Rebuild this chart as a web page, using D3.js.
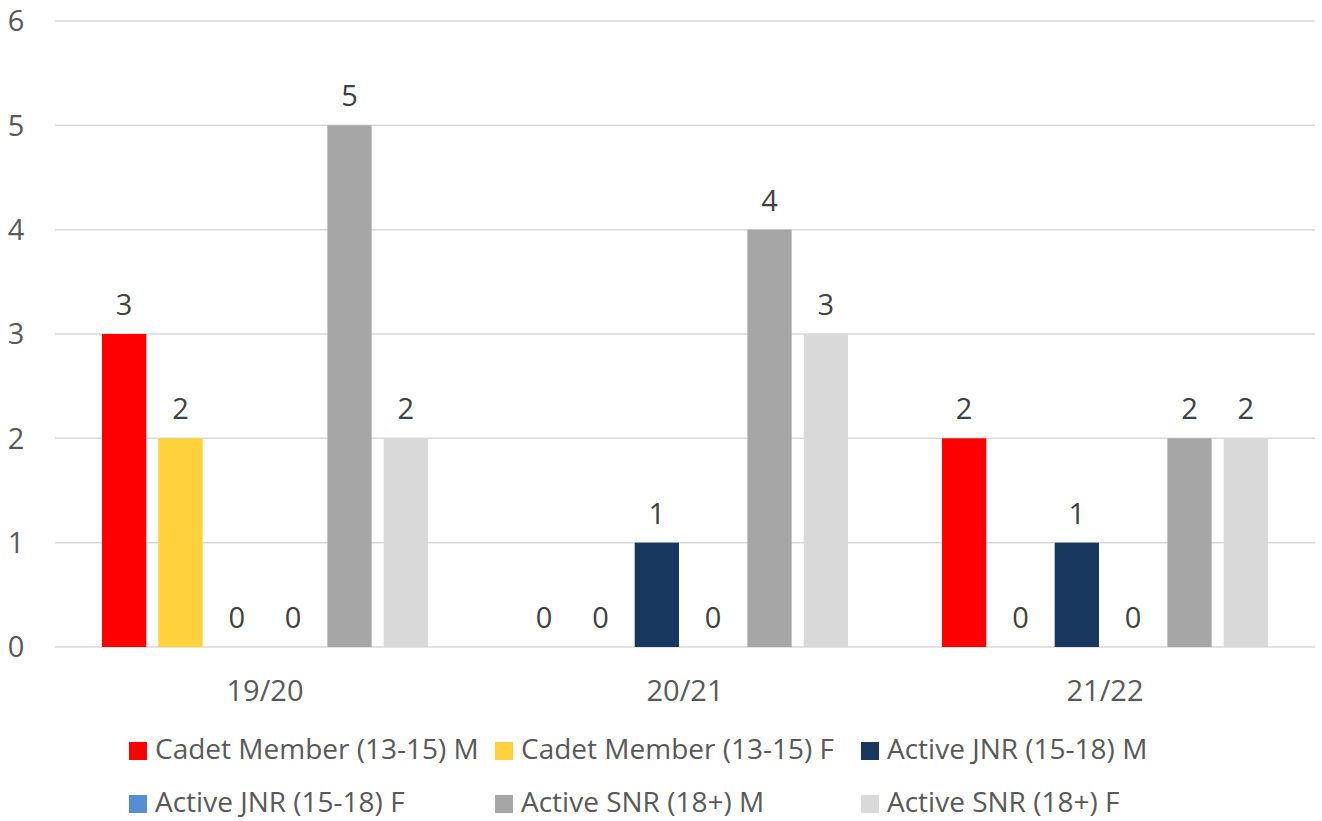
<!DOCTYPE html>
<html>
<head>
<meta charset="utf-8">
<script src="https://cdn.jsdelivr.net/npm/d3@7"></script>
<style>
  body { margin: 0; background: #fff; }
  text { font-family: "Open Sans", "Noto Sans", sans-serif; }
</style>
</head>
<body>
<div id="chart"></div>
<script>
// data
var seasons = ["19/20", "20/21", "21/22"];
var seriesNames = ["Cadet Member (13-15) M", "Cadet Member (13-15) F", "Active JNR (15-18) M",
                   "Active JNR (15-18) F", "Active SNR (18+) M", "Active SNR (18+) F"];
var cadetM = [3, 0, 2];
var cadetF = [2, 0, 0];
var jnrM   = [0, 1, 1];
var jnrF   = [0, 0, 0];
var snrM   = [5, 4, 2];
var snrF   = [2, 3, 2];
var yTicks = [0, 1, 2, 3, 4, 5, 6];
var colors = ["#FF0000", "#FFD13A", "#17375E", "#558ED5", "#A6A6A6", "#D9D9D9"];

var allSeries = [cadetM, cadetF, jnrM, jnrF, snrM, snrF];

var W = 1322, H = 821;
var margin = {top: 21, right: 7, bottom: 174, left: 55},
    width = W - margin.left - margin.right,
    height = H - margin.top - margin.bottom;

var svg = d3.select("#chart")
  .append("svg")
    .attr("width", W)
    .attr("height", H);

var g = svg.append("g")
    .attr("transform", "translate(" + margin.left + "," + margin.top + ")");

var x0 = d3.scaleBand().domain(seasons).range([0, width]).paddingInner(0).paddingOuter(0);
var x1 = d3.scaleBand().domain(d3.range(seriesNames.length))
    .range([47, x0.bandwidth() - 47]).paddingInner(0.214).paddingOuter(0);
var y = d3.scaleLinear().domain([0, 6]).range([height, 0]);

// gridlines
g.selectAll(".grid")
  .data(yTicks)
  .enter().append("line")
    .attr("x1", 0).attr("x2", width)
    .attr("y1", function(d) { return y(d); })
    .attr("y2", function(d) { return y(d); })
    .attr("stroke", "#D9D9D9")
    .attr("stroke-width", 1.5);

// y labels
g.selectAll(".ylab")
  .data(yTicks)
  .enter().append("text")
    .attr("x", -39)
    .attr("y", function(d) { return y(d); })
    .attr("dy", "0.36em")
    .attr("text-anchor", "middle")
    .attr("font-size", "29px")
    .attr("fill", "#595959")
    .text(function(d) { return d; });

// x labels
g.selectAll(".xlab")
  .data(seasons)
  .enter().append("text")
    .attr("x", function(d) { return x0(d) + x0.bandwidth() / 2; })
    .attr("y", height + 54)
    .attr("text-anchor", "middle")
    .attr("font-size", "29px")
    .attr("fill", "#595959")
    .text(function(d) { return d; });

// bars
var groups = g.selectAll(".season")
  .data(seasons)
  .enter().append("g")
    .attr("transform", function(d) { return "translate(" + x0(d) + ",0)"; });

groups.each(function(season, si) {
  var cells = allSeries.map(function(s, k) { return {k: k, v: s[si]}; });
  var sel = d3.select(this);
  sel.selectAll("rect")
    .data(cells)
    .enter().append("rect")
      .attr("x", function(d) { return x1(d.k); })
      .attr("width", x1.bandwidth())
      .attr("y", function(d) { return y(d.v); })
      .attr("height", function(d) { return height - y(d.v); })
      .attr("fill", function(d) { return colors[d.k]; });
  sel.selectAll("text")
    .data(cells)
    .enter().append("text")
      .attr("x", function(d) { return x1(d.k) + x1.bandwidth() / 2; })
      .attr("y", function(d) { return y(d.v) - 19; })
      .attr("text-anchor", "middle")
      .attr("font-size", "29px")
      .attr("fill", "#404040")
      .text(function(d) { return d.v; });
});

// legend
var legendPos = [[129, 742], [495, 742], [861, 742], [129, 795], [495, 795], [861, 795]];
var legend = svg.selectAll(".legend")
  .data(seriesNames)
  .enter().append("g")
    .attr("transform", function(d, i) { return "translate(" + legendPos[i][0] + "," + legendPos[i][1] + ")"; });

legend.append("rect")
  .attr("width", 18).attr("height", 18)
  .attr("fill", function(d, i) { return colors[i]; });

legend.append("text")
  .attr("x", 26)
  .attr("y", 9)
  .attr("dy", "0.3em")
  .attr("font-size", "28px")
  .attr("fill", "#595959")
  .text(function(d) { return d; });
</script>
</body>
</html>
